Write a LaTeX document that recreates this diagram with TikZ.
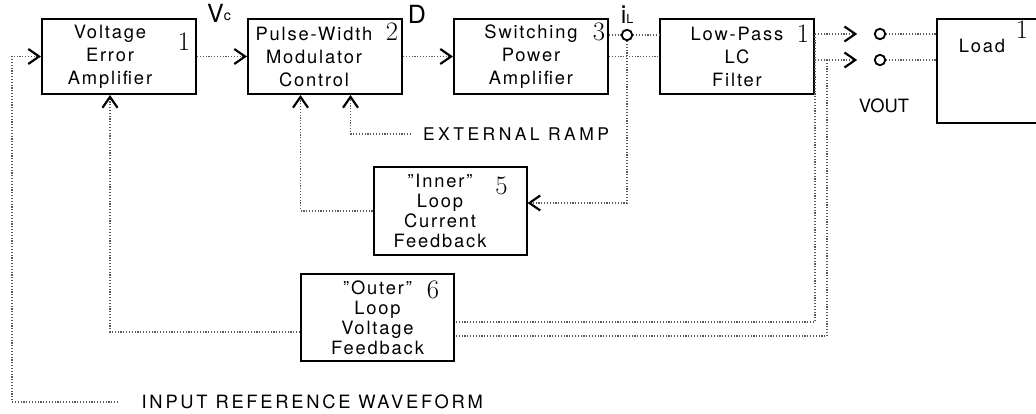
\documentclass[tikz,border=0pt]{standalone}
\usepackage{fontspec}
\setsansfont[LetterSpace=10]{TeX Gyre Heros}
\newfontfamily\rampfont[LetterSpace=20]{TeX Gyre Heros}
\newfontfamily\reffont[LetterSpace=15]{TeX Gyre Heros}
\newfontfamily\plainsf{TeX Gyre Heros}
\usetikzlibrary{arrows.meta,positioning,calc}

\begin{document}
\begin{tikzpicture}[
    x=0.6pt, y=-0.6pt,
    node distance=30pt,
    font=\sffamily\fontsize{11}{13.8}\selectfont,
    block/.style={draw, line width=1.2pt, minimum width=92.4pt, minimum height=45pt, align=center, inner sep=2pt},
    fbblock/.style={block, minimum width=91.8pt, minimum height=52.5pt, font=\sffamily\fontsize{11}{12}\selectfont},
    num/.style={font=\rmfamily\fontsize{16}{16}\selectfont, inner sep=0pt},
    term/.style={circle, draw, line width=1.1pt, inner sep=0pt, minimum size=6.3pt},
    sig/.style={densely dotted, line width=0.7pt, black!65},
    arrow/.style={sig, -{Straight Barb[length=6.5pt,width=9pt,line width=1.3pt,color=black]}},
    tag/.style={inner sep=0pt}
]
    \clip (0,0) rectangle (1036,414);

    % forward path
    \node[block, label={[align=center, xshift=-5.4pt]center:Voltage\\Error\\Amplifier}] (vea) at (119,56.5) {};
    \node[block, right=of vea, label={[align=center, xshift=-6.6pt]center:Pulse-Width\\Modulator\\Control}] (pwm) {};
    \node[block, right=of pwm] (spa) {Switching\\Power\\Amplifier};
    \node[block, right=of spa] (lpf) {Low-Pass\\LC\\Filter};
    \node[draw, line width=1.2pt, minimum width=72pt, minimum height=62.4pt] (load) at (997,71) {};
    \node[tag] (loadtxt) at (982,46) {Load};

    % feedback blocks
    \node[fbblock, label={[align=center, xshift=-6pt, font=\sffamily\fontsize{11}{12}\selectfont]center:"Inner"\\Loop\\Current\\Feedback}] (inner) at (450,211) {};
    \node[fbblock] (outer) at (377.5,317.5) {"Outer"\\Loop\\Voltage\\Feedback};

    % block numbers
    \node[num] at ($(vea.north east)+(-13,24)$) {1};
    \node[num] at ($(pwm.north east)+(-11,14)$) {2};
    \node[num] at ($(spa.north east)+(-10,14)$) {3};
    \node[num] at ($(lpf.north east)+(-12,16)$) {1};
    \node[num] at (1022,30) {1};
    \node[num] at ($(inner.north east)+(-26,20)$) {5};
    \node[num] at ($(outer.north east)+(-22,17)$) {6};

    % signal labels
    \node[tag] (vc) at (219,13) {{\fontsize{15}{15}\selectfont V}\raisebox{1pt}{\fontsize{8.5}{8.5}\selectfont c}};
    \node[tag] (duty) at (417,14) {\fontsize{15}{15}\selectfont D};
    \node[tag] (ilbl) at (627,15) {{\fontsize{15}{15}\selectfont i}{\fontsize{7.5}{7.5}\selectfont L}};
    \node[tag] (vout) at (884,106) {\plainsf\fontsize{11}{11}\selectfont VOUT};
    \node[inner xsep=7pt, inner ysep=0pt, anchor=west] (ramp) at (411,134) {\rampfont\fontsize{10.5}{10.5}\selectfont EXTERNAL RAMP};
    \node[inner xsep=14pt, inner ysep=0pt, anchor=west] (inref) at (118,402) {\reffont\fontsize{11}{11}\selectfont INPUT REFERENCE WAVEFORM};

    % terminals
    \node[term] (il) at (627,35) {};
    \node[term] (out1) at (880,34) {};
    \node[term] (out2) at (880,60) {};
    \coordinate (tap1) at (815,34);
    \coordinate (tap2) at (827,60);

    % connections
    \draw[arrow] (inref.west) -| ($(vea.west)+(-29,0)$) -- (vea.west);
    \draw[arrow] (vea) -- (pwm);
    \draw[arrow] (pwm) -- (spa);
    \draw[sig] (spa.east |- il) -- (il.west);
    \draw[sig] (il.east) -- (lpf.west |- il);
    \draw[sig] (spa.east) -- (lpf.west);
    \draw[arrow] (il.south) |- ($(inner.east)+(0,-8)$);
    \draw[arrow] (inner.west) -| ($(pwm.south)+(-24.5,0)$);
    \draw[arrow] (ramp.west) -| ($(pwm.south)+(25.5,0)$);

    \draw[arrow, shorten >=10pt] (lpf.east |- out1) -- (out1.west);
    \draw[arrow, shorten >=10pt] (lpf.east |- out2) -- (out2.west);
    \draw[sig] (out1.east) -- (load.west |- out1);
    \draw[sig] (out2.east) -- (load.west |- out2);

    \draw[sig] (tap1) |- ($(outer.east)+(0,4.5)$);
    \draw[sig] (tap2) |- ($(outer.east)+(0,18.5)$);
    \draw[arrow] ($(outer.west)+(0,14.5)$) -| ($(vea.south)+(-9,0)$);
\end{tikzpicture}
\end{document}
